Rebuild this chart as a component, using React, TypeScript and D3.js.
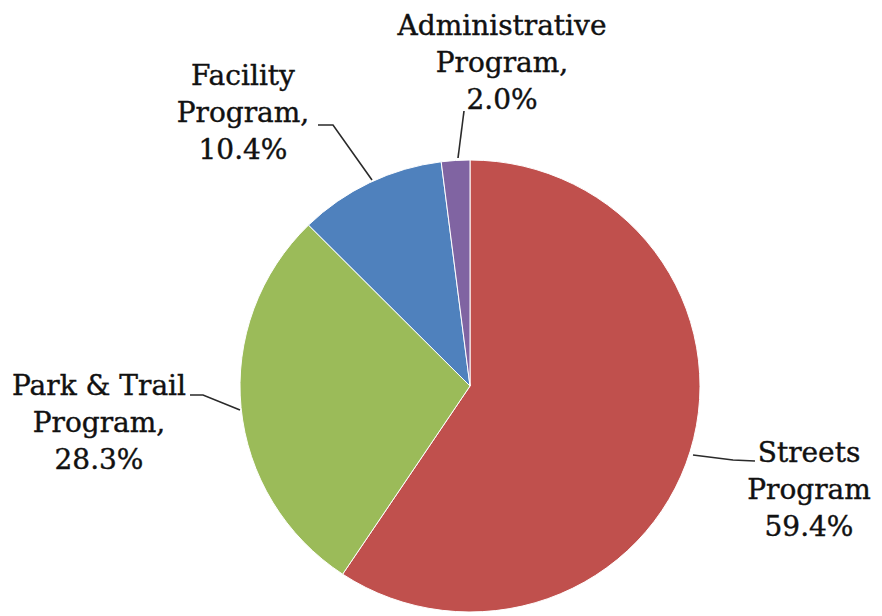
import React from "react";
import * as d3 from "d3";

const categories = ["Streets Program", "Park & Trail Program", "Facility Program", "Administrative Program"];
const values = [59.4, 28.3, 10.4, 2.0];
const labelLines = [
  ["Streets", "Program", "59.4%"],
  ["Park & Trail", "Program,", "28.3%"],
  ["Facility", "Program,", "10.4%"],
  ["Administrative", "Program,", "2.0%"],
];
const colors = ["#C0504D", "#9BBB59", "#4F81BD", "#8064A2"];

// label anchor (center x, first baseline) and leader polyline (from label to slice)
const labelPos = [
  { x: 809, y: 462 },
  { x: 99, y: 395 },
  { x: 243, y: 85 },
  { x: 502, y: 35 },
];
const leaders = [
  [[755, 461], [733, 460], [693, 455]],
  [[190, 395], [203, 395], [240, 410]],
  [[318, 125], [333, 125], [372, 180]],
  [[464, 111], [458, 158]],
];

export default function App() {
  const W = 882, H = 616;
  const cx = 470, cy = 386, rx = 230, ry = 226;
  const pie = d3.pie<number>().sort(null).value((d) => d);
  const arcs = pie(values);
  const arc = d3.arc<d3.PieArcDatum<number>>().innerRadius(0).outerRadius(rx);
  const line = d3.line();
  return (
    <svg width={W} height={H} style={{ position: "absolute", left: 0, top: 0, background: "#fff" }}>
      <g transform={`translate(${cx},${cy}) scale(1,${ry / rx})`}>
        {arcs.map((a, i) => (
          <path key={categories[i]} d={arc(a) || ""} fill={colors[i]} stroke="#fff" strokeWidth={1} />
        ))}
      </g>
      {leaders.map((pts, i) => (
        <path key={i} d={line(pts as [number, number][]) || ""} fill="none" stroke="#2a2a2a" strokeWidth={1.6} />
      ))}
      {labelLines.map((lines, i) => (
        <text key={i} textAnchor="middle" fontFamily="'DejaVu Serif', serif" fontSize={28} fill="#111" stroke="#111" strokeWidth={0.4}>
          {lines.map((t, j) => (
            <tspan key={j} x={labelPos[i].x} y={labelPos[i].y + j * 37}>{t}</tspan>
          ))}
        </text>
      ))}
    </svg>
  );
}
